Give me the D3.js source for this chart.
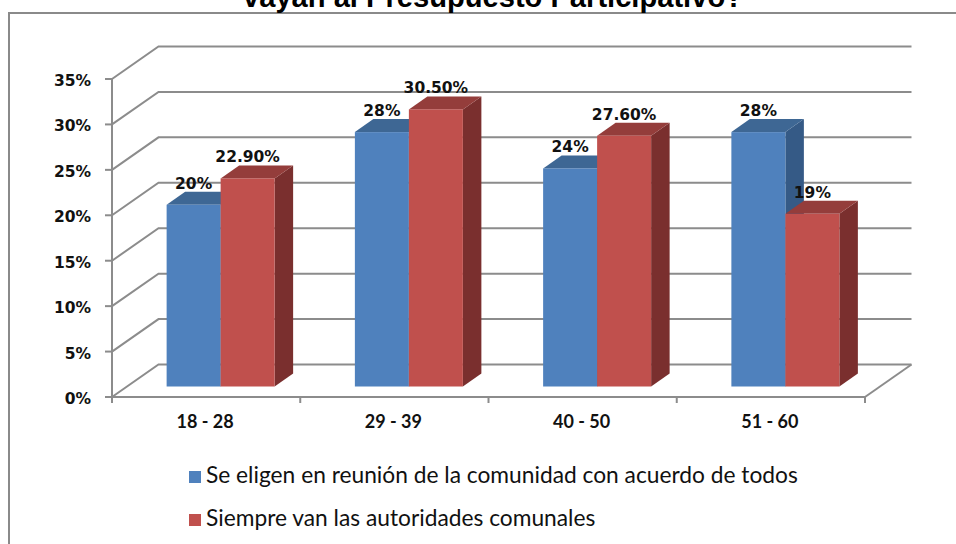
<!DOCTYPE html>
<html>
<head>
<meta charset="utf-8">
<script src="https://cdn.jsdelivr.net/npm/d3@7"></script>
<style>
  html, body { margin: 0; padding: 0; background: #ffffff; }
  svg { display: block; }
</style>
</head>
<body>
<svg id="chart" width="956" height="544"></svg>
<script>
// ---------------- data ----------------
const categories = ["18 - 28", "29 - 39", "40 - 50", "51 - 60"];
const seriesNames = [
  "Se eligen en reunión de la comunidad con acuerdo de todos",
  "Siempre van las autoridades comunales"
];
const seriesA = [20, 28, 24, 28];          // blue
const seriesB = [22.9, 30.5, 27.6, 19];    // red
const labelsA = ["20%", "28%", "24%", "28%"];
const labelsB = ["22.90%", "30.50%", "27.60%", "19%"];
const yTicks = [0, 5, 10, 15, 20, 25, 30, 35];
const yTickLabels = ["0%", "5%", "10%", "15%", "20%", "25%", "30%", "35%"];
const titleText = "vayan al Presupuesto Participativo?";

// ---------------- styles ----------------
const colors = [
  { front: "#4f81bd", top: "#3e6794", side: "#355a86" },
  { front: "#c0504d", top: "#943d3b", side: "#7a2f2e" }
];
const gridColor = "#8c8c8c";

const svg = d3.select("#chart");

// frame
svg.append("rect")
  .attr("x", 9).attr("y", 13).attr("width", 1200).attr("height", 1000)
  .attr("fill", "none").attr("stroke", "#8a8a8a").attr("stroke-width", 2);

// title (cut off at top)
const title = svg.append("text")
  .attr("x", 493).attr("y", 7)
  .attr("text-anchor", "middle")
  .attr("font-family", "'Liberation Sans', Arial, sans-serif")
  .attr("font-weight", "bold")
  .attr("font-size", 28)
  .attr("fill", "#000")
  .text(titleText);

function fitWidth(sel, target) {
  const n = sel.node();
  const fs = parseFloat(sel.attr("font-size"));
  const w = n.getComputedTextLength();
  if (w > 0) sel.attr("font-size", (fs * target / w).toFixed(2));
}
fitWidth(title, 500);

// ---------------- scales ----------------
const x = d3.scaleBand().domain(categories).range([112, 865]);
const y = d3.scaleLinear().domain([0, 35]).range([397, 79]);
const xs = d3.scaleBand().domain([0, 1]).range([-54, 54]);

const DX = 46.5, DY = -32.5;     // wall depth
const OX = 14.5, OY = -10.5;     // bar front plane offset
const BDX = 18.5, BDY = -13;     // bar depth

// ---------------- walls / grid ----------------
const grid = svg.append("g").attr("fill", "none").attr("stroke", gridColor)
  .attr("stroke-width", 2).attr("stroke-linejoin", "miter");
yTicks.forEach(t => {
  const y0 = y(t);
  grid.append("polyline")
    .attr("points", [[112, y0], [112 + DX, y0 + DY], [865 + DX, y0 + DY]].map(p => p.join(",")).join(" "));
});
// floor right edge
grid.append("line")
  .attr("x1", 865).attr("y1", y(0)).attr("x2", 865 + DX).attr("y2", y(0) + DY);

// axes
const axis = svg.append("g").attr("stroke", gridColor).attr("stroke-width", 2).attr("fill", "none");
axis.append("line").attr("x1", 112).attr("y1", y(35)).attr("x2", 112).attr("y2", y(0) + 1);
axis.append("line").attr("x1", 112).attr("y1", y(0)).attr("x2", 866).attr("y2", y(0));
yTicks.forEach(t => {
  axis.append("line").attr("x1", 105).attr("x2", 112).attr("y1", y(t)).attr("y2", y(t));
});
const bounds = categories.map(c => x(c)).concat([x(categories[categories.length - 1]) + x.bandwidth()]);
bounds.forEach(b => {
  axis.append("line").attr("x1", b).attr("x2", b).attr("y1", y(0)).attr("y2", y(0) + 6);
});

// y tick labels
svg.append("g").selectAll("text").data(yTicks).join("text")
  .attr("x", 91).attr("y", d => y(d) + 7)
  .attr("text-anchor", "end")
  .attr("font-family", "'DejaVu Sans', Verdana, sans-serif")
  .attr("font-weight", "bold").attr("font-size", 15.5)
  .attr("fill", "#111")
  .text((d, i) => yTickLabels[i]);

// category labels
svg.append("g").selectAll("text").data(categories).join("text")
  .attr("x", d => x(d) + x.bandwidth() / 2 - 1).attr("y", 428)
  .attr("text-anchor", "middle")
  .attr("font-family", "Lato, 'Open Sans', sans-serif")
  .attr("font-weight", "bold").attr("font-size", 18)
  .attr("fill", "#111")
  .text(d => d);

// ---------------- bars ----------------
const barData = [];
categories.forEach((c, i) => {
  [seriesA[i], seriesB[i]].forEach((v, s) => {
    barData.push({ cat: c, s, v, label: s === 0 ? labelsA[i] : labelsB[i] });
  });
});

const bars = svg.append("g");
barData.forEach(d => {
  const cx = x(d.cat) + x.bandwidth() / 2 + OX;
  const x0 = cx + xs(d.s), x1 = x0 + xs.bandwidth();
  const yt = y(d.v) + OY, yb = y(0) + OY;
  const col = colors[d.s];
  const g = bars.append("g");
  // side
  g.append("polygon")
    .attr("points", [[x1, yt], [x1 + BDX, yt + BDY], [x1 + BDX, yb + BDY], [x1, yb]].map(p => p.join(",")).join(" "))
    .attr("fill", col.side);
  // top
  g.append("polygon")
    .attr("points", [[x0, yt], [x0 + BDX, yt + BDY], [x1 + BDX, yt + BDY], [x1, yt]].map(p => p.join(",")).join(" "))
    .attr("fill", col.top);
  // front
  g.append("rect")
    .attr("x", x0).attr("y", yt).attr("width", x1 - x0).attr("height", yb - yt)
    .attr("fill", col.front);
});

// data labels
barData.forEach(d => {
  const cx = x(d.cat) + x.bandwidth() / 2 + OX;
  const xc = cx + xs(d.s) + xs.bandwidth() / 2;
  svg.append("text")
    .attr("x", xc).attr("y", y(d.v) + OY + BDY - 3)
    .attr("text-anchor", "middle")
    .attr("font-family", "'DejaVu Sans', Verdana, sans-serif")
    .attr("font-weight", "bold").attr("font-size", 15.5)
    .attr("fill", "#111")
    .text(d.label);
});

// ---------------- legend ----------------
const legend = svg.append("g");
seriesNames.forEach((name, i) => {
  const base = 483 + i * 43;
  legend.append("rect")
    .attr("x", 189).attr("y", base - 12).attr("width", 12).attr("height", 12)
    .attr("fill", colors[i].front);
  const t = legend.append("text")
    .attr("x", 206).attr("y", base)
    .attr("font-family", "Lato, 'Open Sans', sans-serif")
    .attr("font-size", 19)
    .attr("fill", "#111")
    .text(name);
  if (i === 0) fitWidth(t, 592);
  else {
    // same font size as first row
    t.attr("font-size", legend.select("text").attr("font-size"));
  }
});
</script>
</body>
</html>
